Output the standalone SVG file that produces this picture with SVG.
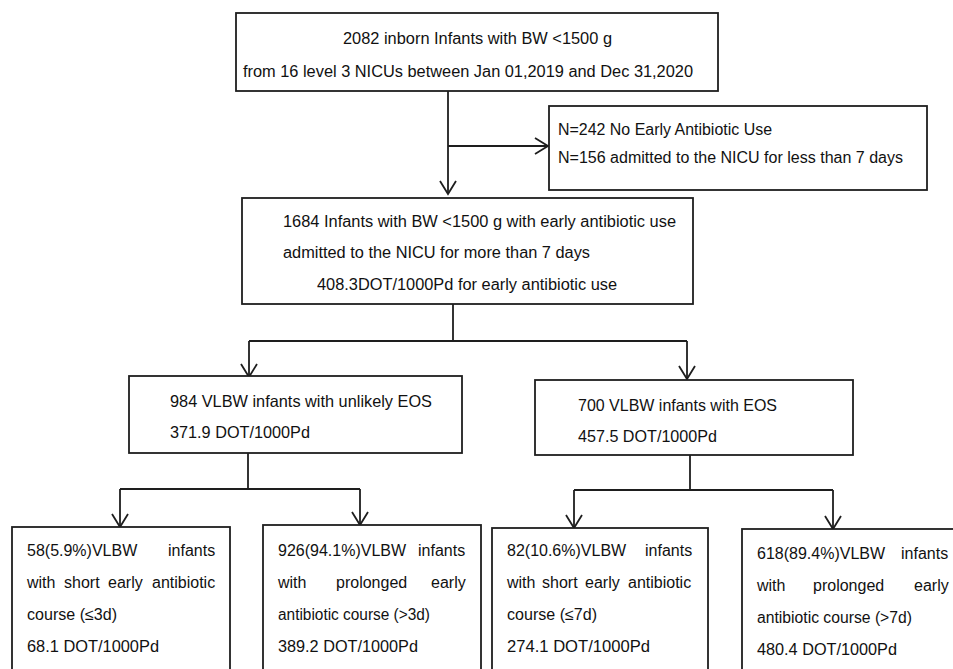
<svg xmlns="http://www.w3.org/2000/svg" width="953" height="669" viewBox="0 0 953 669">
<style>
  .box { fill: #ffffff; stroke: #1e1e1e; stroke-width: 1.8; }
  .t { font-family: "Liberation Sans", Arial, sans-serif; font-size: 16px; fill: #111111; }
  .tm { font-family: "Liberation Sans", Arial, sans-serif; font-size: 16.5px; fill: #111111; }
  .c { fill: none; stroke: #1e1e1e; stroke-width: 1.8; }
  .ca { fill: none; stroke: #1e1e1e; stroke-width: 1.8; marker-end: url(#arr); }
</style>
<defs>
  <marker id="arr" markerUnits="userSpaceOnUse" markerWidth="20" markerHeight="22" refX="14" refY="9" orient="auto">
    <path d="M1,1 L14,9 L1,17" fill="none" stroke="#1e1e1e" stroke-width="1.8"/>
  </marker>
</defs>
<rect width="953" height="669" fill="#ffffff"/>

<g id="connectors">
  <line class="ca" x1="448" y1="91" x2="448" y2="194"/>
  <line class="ca" x1="448" y1="146" x2="548" y2="146"/>
  <line class="c" x1="453" y1="304" x2="453" y2="341"/>
  <line class="c" x1="249" y1="341" x2="687" y2="341"/>
  <line class="ca" x1="249" y1="341" x2="249" y2="377"/>
  <line class="ca" x1="687" y1="341" x2="687" y2="379"/>
  <line class="c" x1="248" y1="453" x2="248" y2="489"/>
  <line class="c" x1="120" y1="489" x2="360" y2="489"/>
  <line class="ca" x1="120" y1="489" x2="120" y2="527"/>
  <line class="ca" x1="360" y1="489" x2="360" y2="525"/>
  <line class="c" x1="690" y1="455" x2="690" y2="490"/>
  <line class="c" x1="574" y1="490" x2="833" y2="490"/>
  <line class="ca" x1="574" y1="490" x2="574" y2="528"/>
  <line class="ca" x1="833" y1="490" x2="833" y2="529"/>
</g>

<g id="n-top">
  <rect class="box" x="236" y="13" width="482" height="78"/>
  <text class="t" x="343" y="44" textLength="269" lengthAdjust="spacingAndGlyphs">2082 inborn Infants with BW &lt;1500 g</text>
  <text class="t" x="243" y="77" textLength="450" lengthAdjust="spacingAndGlyphs">from 16 level 3 NICUs between Jan 01,2019 and Dec 31,2020</text>
</g>

<g id="n-excluded">
  <rect class="box" x="549" y="106" width="378" height="84"/>
  <text class="t" x="558" y="135" textLength="214" lengthAdjust="spacingAndGlyphs">N=242 No Early Antibiotic Use</text>
  <text class="t" x="558" y="163" textLength="345" lengthAdjust="spacingAndGlyphs">N=156 admitted to the NICU for less than 7 days</text>
</g>

<g id="n-included">
  <rect class="box" x="242" y="198" width="451" height="106"/>
  <text class="t" x="283" y="227" textLength="393" lengthAdjust="spacingAndGlyphs">1684 Infants with BW &lt;1500 g with early antibiotic use</text>
  <text class="t" x="283" y="258" textLength="307" lengthAdjust="spacingAndGlyphs">admitted to the NICU for more than 7 days</text>
  <text class="t" x="317" y="290" textLength="300" lengthAdjust="spacingAndGlyphs">408.3DOT/1000Pd for early antibiotic use</text>
</g>

<g id="n-unlikely">
  <rect class="box" x="129" y="376" width="333" height="77"/>
  <text class="tm" x="170" y="407" textLength="262" lengthAdjust="spacingAndGlyphs">984 VLBW infants with unlikely EOS</text>
  <text class="tm" x="170" y="438" textLength="140" lengthAdjust="spacingAndGlyphs">371.9 DOT/1000Pd</text>
</g>

<g id="n-eos">
  <rect class="box" x="535" y="380" width="318" height="75"/>
  <text class="tm" x="578" y="411" textLength="199" lengthAdjust="spacingAndGlyphs">700 VLBW infants with EOS</text>
  <text class="tm" x="578" y="442" textLength="139" lengthAdjust="spacingAndGlyphs">457.5 DOT/1000Pd</text>
</g>

<g id="n-short3">
  <rect class="box" x="12" y="527" width="218" height="160"/>
  <text class="t" y="556"><tspan x="27">58(5.9%)VLBW</tspan><tspan x="168">infants</tspan></text>
  <text class="t" y="588"><tspan x="27">with</tspan><tspan x="64">short</tspan><tspan x="108">early</tspan><tspan x="152">antibiotic</tspan></text>
  <text class="t" x="27" y="620" textLength="90" lengthAdjust="spacingAndGlyphs">course (≤3d)</text>
  <text class="t" x="27" y="652" textLength="132" lengthAdjust="spacingAndGlyphs">68.1 DOT/1000Pd</text>
</g>

<g id="n-prolonged3">
  <rect class="box" x="263" y="525" width="218" height="160"/>
  <text class="t" y="556"><tspan x="278">926(94.1%)VLBW</tspan><tspan x="418">infants</tspan></text>
  <text class="t" y="588"><tspan x="278">with</tspan><tspan x="336">prolonged</tspan><tspan x="431">early</tspan></text>
  <text class="t" x="278" y="620" textLength="152" lengthAdjust="spacingAndGlyphs">antibiotic course (&gt;3d)</text>
  <text class="t" x="278" y="652" textLength="140" lengthAdjust="spacingAndGlyphs">389.2 DOT/1000Pd</text>
</g>

<g id="n-short7">
  <rect class="box" x="492" y="528" width="216" height="160"/>
  <text class="t" y="556"><tspan x="507">82(10.6%)VLBW</tspan><tspan x="645">infants</tspan></text>
  <text class="t" y="588"><tspan x="507">with</tspan><tspan x="542">short</tspan><tspan x="585">early</tspan><tspan x="628">antibiotic</tspan></text>
  <text class="t" x="507" y="620" textLength="90" lengthAdjust="spacingAndGlyphs">course (≤7d)</text>
  <text class="t" x="507" y="652" textLength="143" lengthAdjust="spacingAndGlyphs">274.1 DOT/1000Pd</text>
</g>

<g id="n-prolonged7">
  <rect class="box" x="742" y="529" width="240" height="160"/>
  <text class="t" y="559"><tspan x="757">618(89.4%)VLBW</tspan><tspan x="901">infants</tspan></text>
  <text class="t" y="591"><tspan x="757">with</tspan><tspan x="813">prolonged</tspan><tspan x="914">early</tspan></text>
  <text class="t" x="757" y="623" textLength="155" lengthAdjust="spacingAndGlyphs">antibiotic course (&gt;7d)</text>
  <text class="t" x="757" y="655" textLength="140" lengthAdjust="spacingAndGlyphs">480.4 DOT/1000Pd</text>
</g>
</svg>
